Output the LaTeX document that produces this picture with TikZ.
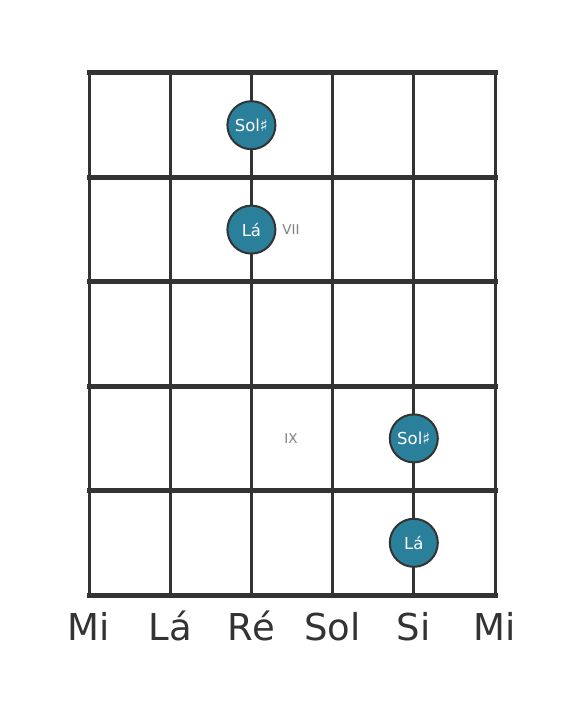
\documentclass[tikz,border=0pt]{standalone}
\usepackage{fontspec}
\setmainfont{DejaVu Sans}
\definecolor{gridc}{HTML}{333333}
\definecolor{notec}{HTML}{2A7F9B}
\definecolor{fretlab}{HTML}{808080}
\tikzset{
  stringline/.style={draw=gridc, line width=3pt},
  fretline/.style={draw=gridc, line width=5pt, line cap=rect},
  notedot/.style={circle, fill=notec, draw=gridc, line width=2pt, minimum size=48pt, inner sep=0pt, text=white, font=\fontsize{16.5}{16.5}\selectfont},
  strname/.style={text=gridc, font=\fontsize{37}{37}\selectfont, anchor=base},
  fretnum/.style={text=fretlab, font=\fontsize{13.5}{13.5}\selectfont},
}
\begin{document}
\begin{tikzpicture}[x=1pt,y=-1pt]
\useasboundingbox (0,0) rectangle (584,711);
\fill[white] (0,0) rectangle (584,711);
% strings
\foreach \x in {89,170.2,251.4,332.6,413.8,495} {
  \draw[stringline] (\x,73) -- (\x,595);
}
% frets
\foreach \y in {73,177.4,281.8,386.2,490.6,595} {
  \draw[fretline] (89,\y) -- (495,\y);
}
% fret labels
\node[fretnum] (f7) at (291,230) {VII};
\node[fretnum] (f9) at (291,439) {IX};
% notes
\node[notedot] (n1) at (251.4,125.2) {Sol♯};
\node[notedot] (n2) at (251.4,229.6) {Lá};
\node[notedot] (n3) at (413.8,438.4) {Sol♯};
\node[notedot] (n4) at (413.8,542.8) {Lá};
% string names
\node[strname] (s1) at (89,640) {Mi};
\node[strname] (s2) at (170.2,640) {Lá};
\node[strname] (s3) at (251.4,640) {Ré};
\node[strname] (s4) at (332.6,640) {Sol};
\node[strname] (s5) at (413.8,640) {Si};
\node[strname] (s6) at (495,640) {Mi};
\end{tikzpicture}
\end{document}
